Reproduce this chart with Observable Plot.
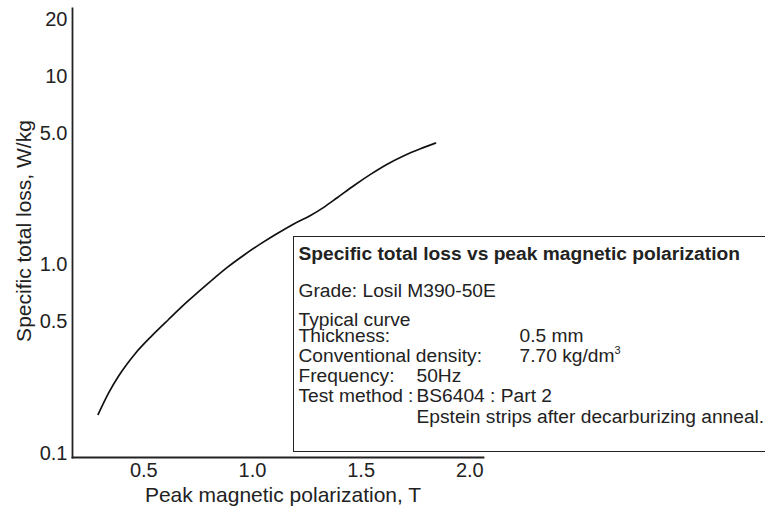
<!DOCTYPE html>
<html>
<head>
<meta charset="utf-8">
<script src="https://cdn.jsdelivr.net/npm/d3@7"></script>
<script src="https://cdn.jsdelivr.net/npm/@observablehq/plot@0.6"></script>
<style>
  html, body { margin: 0; padding: 0; background: #fff; overflow: hidden; }
  #wrap { position: relative; width: 765px; height: 510px; font-family: "Liberation Sans", Arial, sans-serif; color: #222; }
  #box { position: absolute; left: 293px; top: 236px; width: 520px; height: 216px; border: 1.5px solid #222; border-right: none; box-sizing: border-box; }
  .t { position: absolute; white-space: nowrap; font-size: 19.2px; line-height: 15px; }
  .b { font-weight: bold; }
</style>
</head>
<body>
<div id="wrap"></div>
<script>
// Data
const polarization = [0.290, 0.339, 0.385, 0.462, 0.539, 0.615, 0.700, 0.807, 0.884, 0.960, 1.037,
                      1.114, 1.190, 1.267, 1.328, 1.390, 1.466, 1.543, 1.620, 1.697, 1.773, 1.842];
const totalLoss    = [0.161, 0.210, 0.258, 0.340, 0.423, 0.515, 0.638, 0.819, 0.971, 1.127, 1.294,
                      1.469, 1.652, 1.832, 2.023, 2.275, 2.636, 3.027, 3.428, 3.802, 4.140, 4.436];
const xTicks = [0.5, 1.0, 1.5, 2.0];
const yTicks = [0.1, 0.5, 1, 5, 10, 20];
const yTickLabels = ["0.1", "0.5", "1.0", "5.0", "10", "20"];
const xTitle = "Peak magnetic polarization, T";
const yTitle = "Specific total loss, W/kg";

const curve = polarization.map((x, i) => ({x, y: totalLoss[i]}));

const chart = Plot.plot({
  width: 765,
  height: 510,
  marginLeft: 72,
  marginRight: 282,
  marginTop: 8,
  marginBottom: 53,
  style: {fontFamily: "'Liberation Sans', Arial, sans-serif", fontSize: "20px", color: "#222", background: "white"},
  x: {domain: [0.172, 2.063]},
  y: {type: "log", domain: [0.095, 23]},
  marks: [
    Plot.axisX({ticks: xTicks, tickSize: 0, tickPadding: 5, tickFormat: d => d.toFixed(1), label: null, fontSize: 20}),
    Plot.axisY({ticks: yTicks, tickSize: 0, tickPadding: 5, tickFormat: d => yTickLabels[yTicks.indexOf(d)], label: null, fontSize: 20}),
    Plot.frame({anchor: "left", stroke: "#222", strokeWidth: 1.8}),
    Plot.frame({anchor: "bottom", stroke: "#222", strokeWidth: 1.8}),
    Plot.line(curve, {x: "x", y: "y", curve: "monotone-x", stroke: "#111", strokeWidth: 1.7}),
    Plot.text([yTitle], {frameAnchor: "left", rotate: -90, textAnchor: "middle", lineAnchor: "middle", dx: -48, dy: -2, fontSize: 21, fill: "#222"}),
    Plot.text([xTitle], {frameAnchor: "bottom", textAnchor: "middle", lineAnchor: "middle", dy: 38, dx: 5, fontSize: 21, fill: "#222"})
  ]
});

const wrap = document.getElementById("wrap");
wrap.appendChild(chart);

// Annotation box
const boxLines = [
  {text: "Specific total loss vs peak magnetic polarization", x: 4.5, y: 9.0, bold: true},
  {text: "Grade: Losil M390-50E", x: 4.5, y: 46.0},
  {text: "Typical curve", x: 4.5, y: 75.0},
  {text: "Thickness:", x: 4.5, y: 91.0},
  {text: "0.5 mm", x: 225.5, y: 91.0},
  {text: "Conventional density:", x: 4.5, y: 111.0},
  {text: "7.70 kg/dm<sup style='font-size:11px;vertical-align:8px;line-height:0'>3</sup>", x: 225.5, y: 111.0},
  {text: "Frequency:", x: 4.5, y: 131.0},
  {text: "50Hz", x: 122.5, y: 131.0},
  {text: "Test method", x: 4.5, y: 151.0},
  {text: ":", x: 114, y: 151.0},
  {text: "BS6404 : Part 2", x: 122.5, y: 151.0},
  {text: "Epstein strips after decarburizing anneal.", x: 122.5, y: 172.0}
];
const box = document.createElement("div");
box.id = "box";
for (const l of boxLines) {
  const d = document.createElement("div");
  d.className = "t" + (l.bold ? " b" : "");
  d.style.left = l.x + "px";
  d.style.top = l.y + "px";
  d.innerHTML = l.text;
  box.appendChild(d);
}
wrap.appendChild(box);
</script>
</body>
</html>
